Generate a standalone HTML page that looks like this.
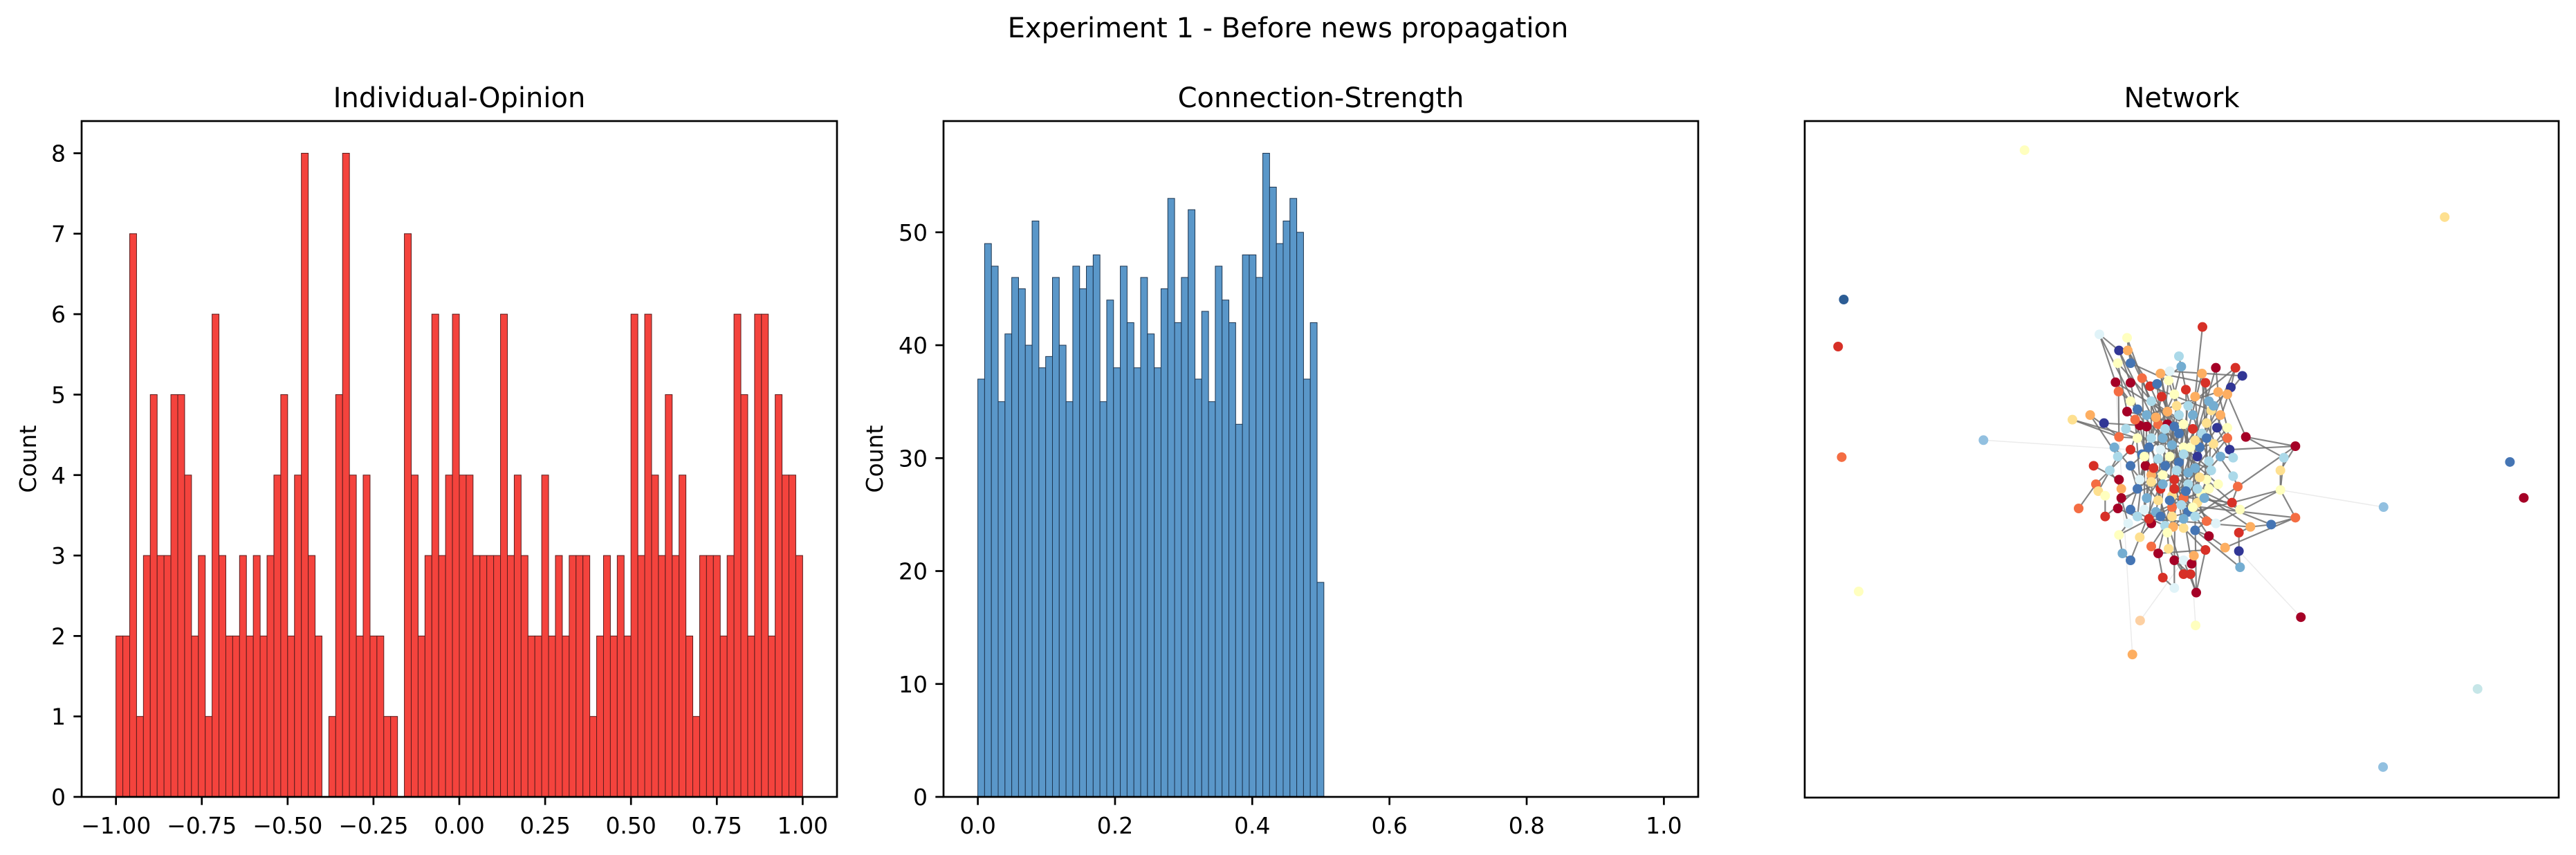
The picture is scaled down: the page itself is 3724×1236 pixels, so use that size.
<!DOCTYPE html>
<html><head><meta charset="utf-8"><style>
html,body{margin:0;padding:0;background:#fff;}
svg{display:block;font-family:"DejaVu Sans","Liberation Sans",sans-serif;}
</style></head><body>
<svg id="fig" width="3724" height="1236" viewBox="0 0 3724 1236" xmlns="http://www.w3.org/2000/svg">
<rect width="3724" height="1236" fill="#fff"/>
<text x="1862" y="54" font-size="40" text-anchor="middle">Experiment 1 - Before news propagation</text>
<g id="c1"></g>
<g id="c2"></g>
<g id="c3"></g>
</svg>
<script>
// ---- data ----
const opinionCounts = [2,2,7,1,3,5,3,3,5,5, 4,2,3,1,6,3,2,2,3,2, 3,2,3,4,5,2,4,8,3,2, 0,1,5,8,4,2,4,2,2,1, 1,0,7,4,2,3,6,3,4,6, 4,4,3,3,3,3,6,3,4,3, 2,2,4,2,3,2,3,3,3,1, 2,3,2,3,2,6,3,6,4,3, 5,3,4,2,1,3,3,3,2,3, 6,5,2,6,6,2,5,4,4,3];
const opinionBinStart = -1.0;
const opinionBinWidth = 0.02;
const opinionXTicks = [-1,-0.75,-0.5,-0.25,0,0.25,0.5,0.75,1];
const opinionXTickLabels = ["\u22121.00","\u22120.75","\u22120.50","\u22120.25","0.00","0.25","0.50","0.75","1.00"];
const opinionYTicks = [0,1,2,3,4,5,6,7,8];

const strengthCounts = [37,49,47,35,41,46,45,40,51,38, 39,46,40,35,47,45,47,48,35,44, 38,47,42,38,46,41,38,45,53,42, 46,52,37,43,35,47,44,42,33,48, 48,46,57,54,49,51,53,50,37,42, 19];
const strengthBinStart = 0.0;
const strengthBinWidth = 0.00989;
const strengthXTicks = [0,0.2,0.4,0.6,0.8,1.0];
const strengthXTickLabels = ["0.0","0.2","0.4","0.6","0.8","1.0"];
const strengthYTicks = [0,10,20,30,40,50];

// network layout: outer nodes (layout units A), cluster nodes (layout units B)
const outerX = [495,1313,143,132,415,139,1440,1467,1194,172,1033,1377,1193,720,705,828];
const outerY = [165,303,473,570,763,798,808,882,901,1075,1128,1276,1437,1135,1205,1145];
const outerC = ['#ffffbf','#fee090','#2c5d95','#d73027','#92c0e0','#f46d43','#4575b4','#a50026','#92c0e0','#ffffbf','#a50026','#c6e6e8','#92c0e0','#fdd0a2','#fdae61','#ffffbf'];
const clusterX = [135,255,220,258,270,215,480,490,582,640,725,755,705,205,270,320,355,385,435,510,595,650,690,218,270,255,300,360,405,460,550,610,95,18,155,220,310,340,390,430,430,480,540,600,645,690,770,985,935,920,920,985,880,790,740,740,745,710,735,745,700,715,690,630,570,530,480,410,360,300,270,215,110,180,335,390,440,480,550,610,660,600,650,715,120,130,220,230,300,360,400,460,520,450,500,560,45,160,230,215,160,270,330,380,450,520,600,640,260,360,420,455,500,220,310,360,430,550,610,680,595,235,270,390,435,460,500,535,410,500,530,555,460,545,320,560,500,270,410,575,
  340,380,420,460,500,540,580,620,350,400,450,500,550,600,330,370,420,470,520,570,620,310,360,410,460,510,560,610,340,390,440,490,540,590,300,350,400,450,500,550,250,290,660,470,520,400,440,580,630,200];
const clusterY = [70,85,140,140,195,195,165,210,38,215,215,250,300,278,280,260,295,285,270,310,280,320,330,318,360,405,395,360,340,330,340,360,420,440,455,515,465,470,460,460,405,420,420,455,475,475,515,555,605,660,745,865,895,905,930,1010,1080,800,730,830,570,605,520,545,560,560,500,520,520,520,570,600,640,660,640,610,600,625,650,620,600,700,720,685,720,750,700,740,740,680,740,700,720,770,780,800,825,770,780,825,860,830,830,840,820,840,880,890,890,890,900,905,910,940,950,990,930,920,945,995,1005,1020,1050,1020,1000,1050,1050,1065,1125,1110,1110,1190,1170,1030,590,600,560,640,680,760,
  420,430,480,470,460,480,500,400,560,570,550,590,530,520,600,650,640,660,670,690,660,700,710,720,740,750,740,740,780,790,790,810,820,780,860,870,860,860,870,860,480,440,420,380,380,240,230,240,380,560];
const clusterC = ['#e0f3f8','#ffffbf','#313695','#fdae61','#4575b4','#ffffbf','#abd9e9','#74add1','#d73027','#a50026','#d73027','#313695','#313695','#a50026','#a50026','#f46d43','#d73027','#4575b4','#ffffbf','#d73027','#d73027','#fdae61','#fdae61','#f46d43','#ffffbf','#a50026','#4575b4','#abd9e9','#d73027','#ffffbf','#fdae61','#74add1','#fdae61','#fee090','#313695','#f46d43','#a50026','#a50026','#f46d43','#a50026','#fdae61','#abd9e9','#74add1','#fee090','#313695','#ffffbf','#a50026','#a50026','#abd9e9','#fee090','#ffffbf','#f46d43','#4575b4','#fdae61','#d73027','#313695','#74add1','#d73027','#f46d43','#ffffbf','#313695','#abd9e9','#f46d43','#fee090','#4575b4','#ffffbf','#4575b4','#74add1','#abd9e9','#ffffbf','#d73027','#abd9e9','#d73027','#abd9e9','#a50026','#abd9e9','#ffffbf','#4575b4','#74add1','#abd9e9','#74add1','#ffffbf','#ffffbf','#abd9e9','#f46d43','#fee090','#a50026','#fdae61','#4575b4','#fdae61','#d73027','#d73027','#abd9e9','#fee090','#f46d43','#fee090','#f46d43','#ffffbf','#a50026','#a50026','#d73027','#4575b4','#e0f3f8','#74add1','#f46d43','#4575b4','#f46d43','#e0f3f8','#e0f3f8','#a50026','#abd9e9','#fdae61','#fee090','#ffffbf','#fee090','#f46d43','#ffffbf','#4575b4','#a50026','#fdae61','#d73027','#74add1','#4575b4','#a50026','#fee090','#a50026','#e0f3f8','#a50026','#d73027','#d73027','#d73027','#a50026','#e0f3f8','#fdae61','#4575b4','#313695','#ffffbf','#4575b4','#ffffbf','#ffffbf',
  '#74add1','#fdae61','#abd9e9','#4575b4','#ffffbf','#d73027','#abd9e9','#fee090','#4575b4','#e0f3f8','#74add1','#abd9e9','#fee090','#4575b4','#ffffbf','#d73027','#4575b4','#abd9e9','#74add1','#fee090','#abd9e9','#e0f3f8','#fee090','#74add1','#d73027','#4575b4','#abd9e9','#ffffbf','#74add1','#fee090','#4575b4','#abd9e9','#ffffbf','#74add1','#abd9e9','#d73027','#4575b4','#fee090','#74add1','#abd9e9','#abd9e9','#f46d43','#fdae61','#fee090','#abd9e9','#fdae61','#e0f3f8','#fdae61','#74add1','#74add1'];
const clusterEdges = [[0,2],[0,26],[0,13],[1,4],[2,14],[3,16],[4,18],[5,25],[6,19],[7,17],[7,29],[8,30],[9,21],[10,12],[11,22],[12,44],[13,24],[14,36],[15,38],[16,39],[17,40],[18,41],[19,42],[20,43],[21,45],[22,46],[23,35],[24,37],[25,36],[26,67],[27,68],[28,66],[29,65],[30,64],[31,62],[32,35],[33,35],[34,36],[35,69],[36,70],[37,74],[38,75],[39,76],[40,77],[41,78],[42,79],[43,80],[44,61],[45,60],[46,47],[46,48],[47,49],[47,60],[48,50],[49,50],[50,51],[50,57],[51,52],[52,53],[53,54],[54,55],[55,56],[56,117],[57,58],[58,83],[59,81],[60,61],[61,80],[62,63],[63,64],[64,65],[66,138],[67,137],[68,139],[70,84],[71,85],[72,86],[73,87],[74,88],[75,89],[76,90],[77,91],[78,92],[79,93],[80,94],[81,95],[82,103],[84,96],[85,97],[86,98],[87,99],[88,101],[89,102],[90,103],[91,104],[92,105],[93,106],[94,107],[95,106],[97,100],[98,108],[99,109],[101,110],[102,111],[103,112],[104,113],[105,116],[106,117],[108,113],[109,114],[110,115],[111,116],[112,120],[113,121],[114,122],[115,123],[116,124],[117,118],[118,119],[120,123],[121,122],[123,128],[124,129],[125,130],[126,131],[127,126],[128,132],[129,130],[130,131],[131,120],[132,125],[133,127],[134,70],[135,44],[136,69],[137,88],[138,91],[139,94],[2,67],[10,64],[47,58],[50,107],[51,119],[53,92],[57,93],[20,65],[28,74],[36,89],[39,90],[45,78],[62,79],[33,69],[32,71],
  [140,160],[141,161],[142,162],[143,163],[144,164],[145,165],[146,166],[147,167],[148,168],[149,169],[150,170],[151,171],[152,172],[153,173],[154,174],[155,175],[156,176],[157,177],[158,178],[159,179],[160,180],[161,181],[162,182],[163,183],[164,184],[165,185],[166,186],[167,187],[168,188],[169,189],[140,110],[142,112],[144,114],[146,116],[148,118],[150,106],[152,104],[154,102],[156,100],[158,98],[3,150],[9,152],[15,154],[17,156],[19,158],[21,140],[23,142],[25,144],[27,146],[29,148],[183,125],[185,127],[187,123],[181,129],[179,131],[1,141],[5,143],[13,145],[16,147],[18,149],[10,184],[11,186],[12,188],[20,185],[31,187],[51,171],[52,173],[53,175],[57,177],[58,179],[82,151],[83,153],[59,155],[92,157],[93,159]];
const outerEdges = [[4,70],[8,50],[10,55],[13,126],[14,13],[15,127]];

// ---- helpers ----
const NS = "http://www.w3.org/2000/svg";
function mk(tag, attrs, parent) {
  const el = document.createElementNS(NS, tag);
  for (const k in attrs) el.setAttribute(k, attrs[k]);
  parent.appendChild(el);
  return el;
}
const TICK = 11.7, SPW = 2.7, FS = 33;

function histChart(g, box, xmin, xmax, ymax, counts, binStart, binW, xt, xtl, yt, title, fill, stroke, countX) {
  const xs = v => box.l + (v - xmin) / (xmax - xmin) * (box.r - box.l);
  const ys = v => box.b - v / ymax * (box.b - box.t);
  counts.forEach((c, i) => {
    if (c <= 0) return;
    const x0 = xs(binStart + i * binW), x1 = xs(binStart + (i + 1) * binW);
    const r = mk('rect', {x: x0, y: ys(c), width: x1 - x0, height: ys(0) - ys(c), fill: fill, stroke: stroke, 'stroke-width': 1}, g);
    
    
  });
  const frame = mk('rect', {x: box.l, y: box.t, width: box.r - box.l, height: box.b - box.t, fill: 'none', stroke: '#000', 'stroke-width': SPW}, g);
  
  
  xt.forEach((v, i) => {
    const x = xs(v);
    const t = mk('line', {x1: x, x2: x, y1: box.b, y2: box.b + TICK, stroke: '#000', 'stroke-width': SPW}, g);
    
    
    const lb = mk('text', {x: x, y: box.b + 53, 'font-size': FS, 'text-anchor': 'middle'}, g);
    lb.textContent = xtl[i];
    
    
  });
  yt.forEach(v => {
    const y = ys(v);
    const t = mk('line', {x1: box.l - TICK, x2: box.l, y1: y, y2: y, stroke: '#000', 'stroke-width': SPW}, g);
    
    
    const lb = mk('text', {x: box.l - 23, y: y + 12, 'font-size': FS, 'text-anchor': 'end'}, g);
    lb.textContent = String(v);
    
    
  });
  const yl = mk('text', {x: countX, y: (box.t + box.b) / 2, 'font-size': FS, 'text-anchor': 'middle', transform: 'rotate(-90 ' + countX + ' ' + ((box.t + box.b) / 2) + ')'}, g);
  yl.textContent = 'Count';
  
  
  const tt = mk('text', {x: (box.l + box.r) / 2, y: box.t - 20, 'font-size': 40, 'text-anchor': 'middle'}, g);
  tt.textContent = title;
  
  
}

histChart(document.getElementById('c1'), {l: 118, r: 1210, t: 175, b: 1152}, -1.1, 1.1,
  Math.max(...opinionCounts) * 1.05, opinionCounts, opinionBinStart, opinionBinWidth,
  opinionXTicks, opinionXTickLabels, opinionYTicks, 'Individual-Opinion', '#f4433d', '#5a1c1c', 52);
histChart(document.getElementById('c2'), {l: 1364, r: 2455, t: 175, b: 1152}, -0.05, 1.05,
  Math.max(...strengthCounts) * 1.05, strengthCounts, strengthBinStart, strengthBinWidth,
  strengthXTicks, strengthXTickLabels, strengthYTicks, 'Connection-Strength', '#5a97c9', '#1d3550', 1276);

// network
(function () {
  const g = document.getElementById('c3');
  const box = {l: 2609, r: 3699, t: 175, b: 1153};
  const axA = v => box.l + (v - 67) / 1468 * (box.r - box.l);
  const ayA = v => box.t + (v - 105) / 1395 * (box.b - box.t);
  const axB = v => 2990 + v / 3;
  const ayB = v => 460 + v / 3;
  const cx = i => axB(clusterX[i]), cy = i => ayB(clusterY[i]);
  outerEdges.forEach(e => {
    const l = mk('line', {x1: axA(outerX[e[0]]), y1: ayA(outerY[e[0]]), x2: cx(e[1]), y2: cy(e[1]), stroke: '#d8d8d8', 'stroke-width': 1.5, opacity: 0.5}, g);
    
    
  });
  clusterEdges.forEach(e => {
    const l = mk('line', {x1: cx(e[0]), y1: cy(e[0]), x2: cx(e[1]), y2: cy(e[1]), stroke: '#707070', 'stroke-width': 2.2, opacity: 0.85}, g);
    
    
  });
  clusterX.forEach((v, i) => {
    const c = mk('circle', {cx: cx(i), cy: cy(i), r: 7, fill: clusterC[i]}, g);
    
    
  });
  outerX.forEach((v, i) => {
    const c = mk('circle', {cx: axA(v), cy: ayA(outerY[i]), r: 7, fill: outerC[i]}, g);
    
    
  });
  const frame = mk('rect', {x: box.l, y: box.t, width: box.r - box.l, height: box.b - box.t, fill: 'none', stroke: '#000', 'stroke-width': SPW}, g);
  
  
  const tt = mk('text', {x: (box.l + box.r) / 2, y: box.t - 20, 'font-size': 40, 'text-anchor': 'middle'}, g);
  tt.textContent = 'Network';
  
  
})();
</script>
</body></html>
